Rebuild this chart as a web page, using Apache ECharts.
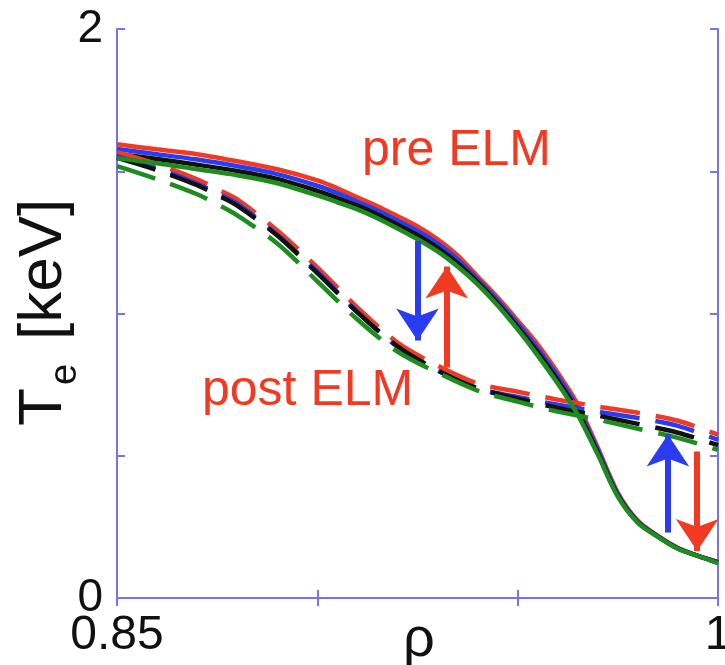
<!DOCTYPE html>
<html>
<head>
<meta charset="utf-8">
<script src="https://cdn.jsdelivr.net/npm/echarts@6/dist/echarts.min.js"></script>
<style>
  html, body { margin: 0; padding: 0; background: #fff; }
  #main { width: 725px; height: 665px; }
</style>
</head>
<body>
<div id="main"></div>
<script>
// rho grid for the pre-ELM (solid) profiles
var rhoPre = [0.85, 0.86, 0.87, 0.88, 0.89, 0.90, 0.905, 0.91, 0.915, 0.92, 0.925, 0.93, 0.935, 0.94, 0.945, 0.95, 0.955, 0.96, 0.965, 0.97, 0.975, 0.98, 0.985, 0.99, 0.995, 1.0];
var preRed   = [1.595, 1.577, 1.560, 1.535, 1.507, 1.468, 1.440, 1.408, 1.377, 1.342, 1.306, 1.261, 1.204, 1.130, 1.056, 0.975, 0.891, 0.792, 0.680, 0.528, 0.370, 0.271, 0.218, 0.176, 0.148, 0.127];
var preBlue  = [1.578, 1.560, 1.541, 1.518, 1.490, 1.449, 1.423, 1.393, 1.362, 1.327, 1.290, 1.246, 1.190, 1.120, 1.046, 0.964, 0.877, 0.779, 0.667, 0.520, 0.365, 0.269, 0.217, 0.175, 0.148, 0.126];
var preBlack = [1.561, 1.543, 1.523, 1.501, 1.473, 1.431, 1.406, 1.379, 1.348, 1.312, 1.275, 1.231, 1.177, 1.110, 1.036, 0.953, 0.864, 0.765, 0.655, 0.511, 0.360, 0.266, 0.216, 0.174, 0.148, 0.124];
var preGreen = [1.546, 1.528, 1.507, 1.486, 1.458, 1.415, 1.391, 1.366, 1.335, 1.299, 1.261, 1.218, 1.165, 1.102, 1.028, 0.944, 0.852, 0.754, 0.644, 0.504, 0.356, 0.264, 0.215, 0.173, 0.148, 0.123];

// rho grid for the post-ELM (dashed) profiles
var rhoPost = [0.85, 0.86, 0.87, 0.875, 0.88, 0.89, 0.90, 0.91, 0.92, 0.93, 0.94, 0.95, 0.96, 0.97, 0.98, 0.99, 1.0];
var postRed   = [1.567, 1.525, 1.472, 1.437, 1.401, 1.292, 1.162, 1.021, 0.898, 0.817, 0.754, 0.725, 0.697, 0.673, 0.651, 0.623, 0.574];
var postBlue  = [1.552, 1.510, 1.457, 1.422, 1.386, 1.277, 1.147, 1.006, 0.883, 0.800, 0.736, 0.707, 0.679, 0.655, 0.633, 0.605, 0.556];
var postBlack = [1.547, 1.504, 1.451, 1.416, 1.379, 1.274, 1.142, 1.004, 0.885, 0.800, 0.737, 0.701, 0.668, 0.641, 0.612, 0.581, 0.537];
var postGreen = [1.518, 1.472, 1.419, 1.384, 1.345, 1.246, 1.113, 0.979, 0.866, 0.792, 0.729, 0.690, 0.655, 0.627, 0.595, 0.563, 0.521];

// arrows: [rho, from Te, to Te]
var arrowBlueLeft  = [0.925, 1.255, 0.905];
var arrowRedLeft   = [0.9323, 0.81, 1.165];
var arrowBlueRight = [0.9875, 0.23, 0.575];
var arrowRedRight  = [0.9948, 0.515, 0.165];

var xTickLabels = { '0.85': '0.85', '1': '1' };
var yTickLabels = { '0': '0', '2': '2' };

var FONT = 'Liberation Sans, Arial, Helvetica, sans-serif';
var AXIS = '#7474ee';
var RED = '#f23a22', BLUE = '#2a3cf0', BLACK = '#111111', GREEN = '#1e8c1e';

function pairs(xs, ys) {
    return xs.map(function (x, i) { return [x, ys[i]]; });
}

function profile(name, xs, ys, color, dashed) {
    return {
        name: name,
        type: 'line',
        data: pairs(xs, ys),
        showSymbol: false,
        smooth: 0.3,
        lineStyle: { color: color, width: 4.5, type: dashed ? [40, 16] : 'solid' },
        silent: true
    };
}

function arrow(a, color) {
    return [
        { coord: [a[0], a[1]], lineStyle: { color: color, width: 6, type: 'solid' } },
        { coord: [a[0], a[2]] }
    ];
}

var myChart = echarts.init(document.getElementById('main'));

var option = {
    animation: false,
    backgroundColor: '#ffffff',
    grid: { left: 117, right: 7, top: 29, bottom: 67, containLabel: false, outerBoundsMode: 'none' },
    xAxis: [{
        type: 'value', min: 0.85, max: 1, interval: 0.05,
        axisLine: { lineStyle: { color: AXIS, width: 2 } },
        axisTick: { inside: true, length: 8, lineStyle: { color: AXIS, width: 2 } },
        splitLine: { show: false },
        axisLabel: {
            color: '#111', fontSize: 48, fontFamily: FONT, margin: 14,
            showMinLabel: true, showMaxLabel: true,
            formatter: function (v) { var k = String(+v.toFixed(2)); return xTickLabels[k] || ''; }
        }
    }, {
        type: 'value', min: 0.85, max: 1, interval: 0.05, position: 'top',
        axisLine: { lineStyle: { color: AXIS, width: 2 } },
        axisTick: { inside: true, length: 8, lineStyle: { color: AXIS, width: 2 } },
        axisLabel: { show: false }, splitLine: { show: false }
    }],
    yAxis: [{
        type: 'value', min: 0, max: 2, interval: 0.5,
        axisLine: { show: true, lineStyle: { color: AXIS, width: 2 } },
        axisTick: { show: true, inside: true, length: 8, lineStyle: { color: AXIS, width: 2 } },
        splitLine: { show: false },
        axisLabel: {
            color: '#111', fontSize: 46, fontFamily: FONT, margin: 14,
            formatter: function (v) { return yTickLabels[String(v)] || ''; }
        }
    }, {
        type: 'value', min: 0, max: 2, interval: 0.5, position: 'right',
        axisLine: { show: true, lineStyle: { color: AXIS, width: 2 } },
        axisTick: { show: true, inside: true, length: 8, lineStyle: { color: AXIS, width: 2 } },
        axisLabel: { show: false }, splitLine: { show: false }
    }],
    series: [
        profile('pre red', rhoPre, preRed, RED, false),
        profile('pre blue', rhoPre, preBlue, BLUE, false),
        profile('pre black', rhoPre, preBlack, BLACK, false),
        profile('post red', rhoPost, postRed, RED, true),
        profile('post blue', rhoPost, postBlue, BLUE, true),
        profile('post black', rhoPost, postBlack, BLACK, true),
        profile('post green', rhoPost, postGreen, GREEN, true),
        profile('pre green', rhoPre, preGreen, GREEN, false),
        {
            name: 'arrows', type: 'line', data: [], silent: true,
            markLine: {
                silent: true, animation: false,
                symbol: ['none', 'arrow'], symbolSize: [32, 32],
                label: { show: false },
                lineStyle: { type: 'solid', width: 6 },
                data: [
                    arrow(arrowBlueLeft, BLUE),
                    arrow(arrowRedLeft, RED),
                    arrow(arrowBlueRight, BLUE),
                    arrow(arrowRedRight, RED)
                ]
            }
        }
    ],
    graphic: [
        { type: 'text', left: 362, top: 126, silent: true,
          style: { text: 'pre ELM', fill: RED, font: '50px ' + FONT } },
        { type: 'text', left: 202, top: 366, silent: true,
          style: { text: 'post ELM', fill: RED, font: '50px ' + FONT } },
        // x axis title
        { type: 'text', x: 419, y: 641, silent: true,
          style: { text: 'ρ', fill: '#111', font: '56px ' + FONT, align: 'center', verticalAlign: 'middle' } },
        // y axis title T_e [keV], written bottom to top
        { type: 'group', x: 44, y: 426, rotation: Math.PI / 2, silent: true,
          children: [
            { type: 'text', x: 0, y: 0,
              style: { text: 'T', fill: '#111', font: '62px ' + FONT, align: 'left', verticalAlign: 'middle' } },
            { type: 'text', x: 41, y: 22,
              style: { text: 'e', fill: '#111', font: '38px ' + FONT, align: 'left', verticalAlign: 'middle' } },
            { type: 'text', x: 86, y: 0,
              style: { text: '[keV]', fill: '#111', font: '62px ' + FONT, align: 'left', verticalAlign: 'middle' } }
          ] }
    ]
};

myChart.setOption(option);
</script>
</body>
</html>
